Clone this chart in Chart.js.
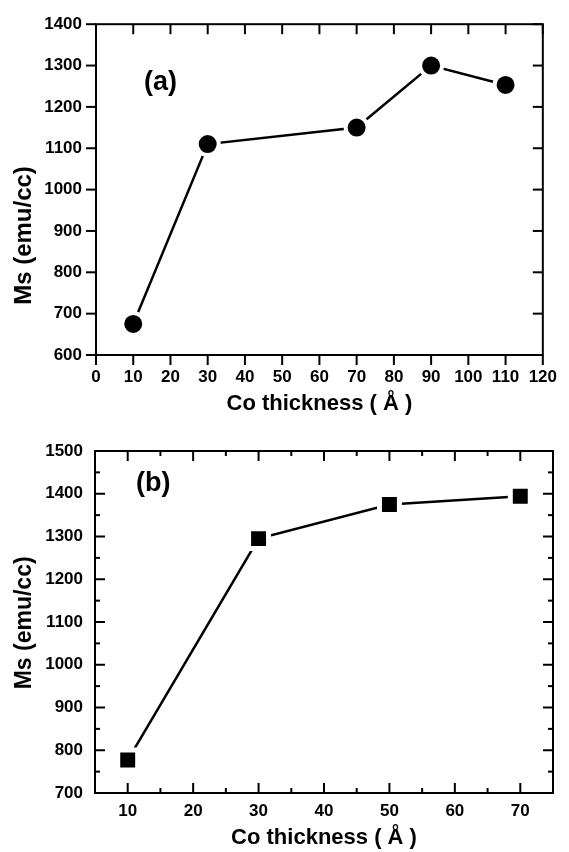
<!DOCTYPE html>
<html><head><meta charset="utf-8">
<script src="https://cdn.jsdelivr.net/npm/chart.js@4/dist/chart.umd.min.js"></script>
<style>
html,body{margin:0;padding:0;background:#fff;width:569px;height:852px;overflow:hidden}
canvas{position:absolute;left:0}
#ca{top:0}
#cb{top:420px}
</style></head><body>
<canvas id="ca" width="569" height="420"></canvas>
<canvas id="cb" width="569" height="432"></canvas>
<script>
// ---- data ----
const thicknessA = [10, 30, 70, 90, 110];
const msA = [675, 1110, 1150, 1300, 1253];
const thicknessB = [10, 30, 50, 70];
const msB = [777, 1295, 1375, 1394];
const xTicksA = [0, 10, 20, 30, 40, 50, 60, 70, 80, 90, 100, 110, 120];
const yTicksA = [600, 700, 800, 900, 1000, 1100, 1200, 1300, 1400];
const xTicksB = [10, 20, 30, 40, 50, 60, 70];
const xMinorB = [5, 15, 25, 35, 45, 55, 65, 75];
const yTicksB = [700, 800, 900, 1000, 1100, 1200, 1300, 1400, 1500];
const yMinorB = [750, 850, 950, 1050, 1150, 1250, 1350, 1450];
const xTitle = 'Co thickness ( \u00C5 )';
const yTitle = 'Ms (emu/cc)';
const panelA = '(a)';
const panelB = '(b)';

const FAM = '"Liberation Sans", Arial, Helvetica, sans-serif';

function framePlugin(cfg) {
  return {
    id: 'frameTicks',
    afterDraw(chart) {
      const {ctx, chartArea: a, scales: {x, y}} = chart;
      ctx.save();
      ctx.strokeStyle = '#000';
      ctx.lineWidth = 2;
      ctx.lineCap = 'butt';
      const seg = (x1, y1, x2, y2) => { ctx.beginPath(); ctx.moveTo(x1, y1); ctx.lineTo(x2, y2); ctx.stroke(); };
      const xt = (v, len) => {
        const px = x.getPixelForValue(v);
        seg(px, a.bottom, px, a.bottom + cfg.bottomDir * len);
        seg(px, a.top, px, a.top + len);
      };
      const yt = (v, len) => {
        const py = y.getPixelForValue(v);
        seg(a.left, py, a.left - cfg.leftDir * len, py);
        seg(a.right, py, a.right - len, py);
      };
      cfg.xMajor.forEach(v => xt(v, cfg.major));
      (cfg.xMinor || []).forEach(v => xt(v, cfg.minor));
      cfg.yMajor.forEach(v => yt(v, cfg.major));
      (cfg.yMinor || []).forEach(v => yt(v, cfg.minor));
      ctx.strokeRect(a.left, a.top, a.right - a.left, a.bottom - a.top);
      ctx.fillStyle = '#000';
      // panel label
      ctx.font = cfg.labelFont;
      ctx.textAlign = 'center';
      ctx.textBaseline = 'middle';
      ctx.fillText(cfg.label, x.getPixelForValue(cfg.labelPos[0]), y.getPixelForValue(cfg.labelPos[1]));
      // y axis title
      ctx.save();
      ctx.translate(cfg.yTitleX, y.getPixelForValue(cfg.yTitleAt));
      ctx.rotate(-Math.PI / 2);
      ctx.font = cfg.yTitleFont;
      ctx.fillText(yTitle, 0, 0);
      ctx.restore();
      ctx.restore();
    }
  };
}

function makeChart(id, xs, ys, opt) {
  return new Chart(document.getElementById(id), {
    type: 'line',
    data: {
      datasets: [{
        data: xs.map((t, i) => ({x: t, y: ys[i]})),
        borderColor: '#000',
        borderWidth: 2.5,
        tension: 0,
        pointStyle: opt.pointStyle,
        pointRadius: opt.pointRadius,
        pointBackgroundColor: '#000',
        pointBorderColor: '#fff',
        pointBorderWidth: opt.pointBorderWidth,
        clip: false
      }]
    },
    options: {
      responsive: false,
      animation: false,
      events: [],
      layout: {autoPadding: false, padding: {top: opt.padTop, right: 16, left: 0, bottom: 0}},
      plugins: {legend: {display: false}, tooltip: {enabled: false}},
      scales: {
        x: {
          type: 'linear',
          min: opt.xMin, max: opt.xMax,
          afterBuildTicks: s => { s.ticks = opt.xTicks.map(v => ({value: v})); },
          afterFit: s => { s.height = opt.xHeight; },
          grid: {display: false, drawTicks: false},
          border: {display: false},
          ticks: {color: '#000', padding: opt.xTickPad, font: {family: FAM, size: 17, weight: 'bold'}, maxRotation: 0, autoSkip: false, callback: v => String(v)},
          title: {display: true, text: xTitle, color: '#000', font: {family: FAM, size: 22, weight: 'bold'}, padding: {top: 0, bottom: opt.xTitlePad}}
        },
        y: {
          type: 'linear',
          min: opt.yMin, max: opt.yMax,
          afterBuildTicks: s => { s.ticks = opt.yTicks.map(v => ({value: v})); },
          afterFit: s => { s.width = opt.yWidth; },
          grid: {display: false, drawTicks: false},
          border: {display: false},
          ticks: {color: '#000', padding: opt.yTickPad, font: {family: FAM, size: 17, weight: 'bold'}, autoSkip: false, callback: v => String(v)},
          title: {display: false}
        }
      }
    },
    plugins: [framePlugin(opt.frame)]
  });
}

makeChart('ca', thicknessA, msA, {
  pointStyle: 'circle', pointRadius: 11, pointBorderWidth: 4,
  padTop: 15, xMin: 0, xMax: 120, yMin: 600, yMax: 1400,
  xTicks: xTicksA, yTicks: yTicksA, xHeight: 65, yWidth: 96,
  xTickPad: 12, yTickPad: 14, xTitlePad: 3,
  frame: {bottomDir: 1, leftDir: 1, major: 10, minor: 5,
          xMajor: xTicksA, yMajor: yTicksA,
          label: panelA, labelPos: [17.3, 1260], labelFont: 'bold 27px ' + FAM,
          yTitleX: 24, yTitleAt: 889, yTitleFont: 'bold 24px ' + FAM}
});

makeChart('cb', thicknessB, msB, {
  pointStyle: 'rect', pointRadius: 14.1, pointBorderWidth: 5,
  padTop: 31, xMin: 5, xMax: 75, yMin: 700, yMax: 1500,
  xTicks: xTicksB, yTicks: yTicksB, xHeight: 59, yWidth: 95,
  xTickPad: 8, yTickPad: 12, xTitlePad: 1,
  frame: {bottomDir: -1, leftDir: -1, major: 10, minor: 5,
          xMajor: xTicksB, xMinor: xMinorB, yMajor: yTicksB, yMinor: yMinorB,
          label: panelB, labelPos: [13.9, 1425], labelFont: 'bold 27px ' + FAM,
          yTitleX: 25, yTitleAt: 1098, yTitleFont: 'bold 23px ' + FAM}
});
</script>
</body></html>
